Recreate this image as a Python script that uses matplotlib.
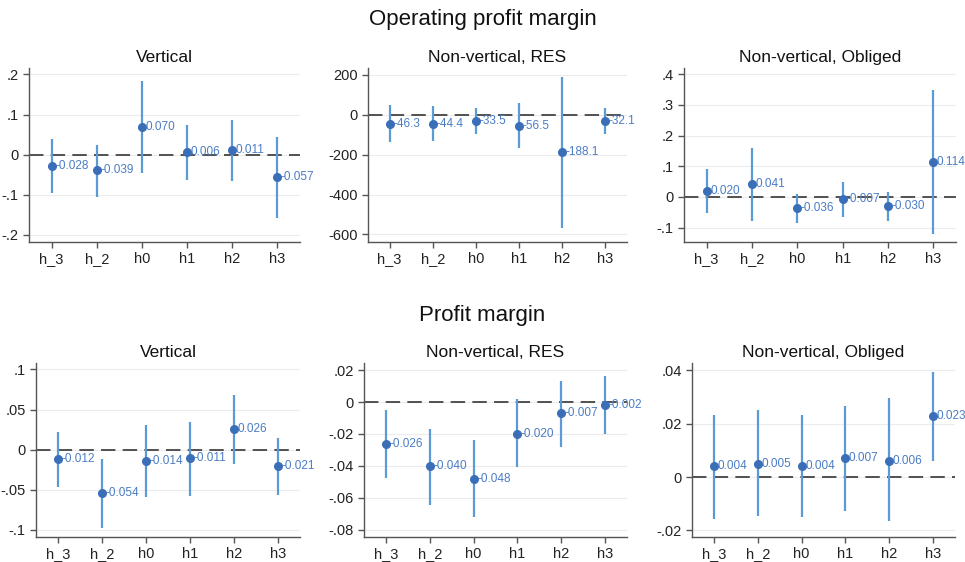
import numpy as np
import matplotlib
matplotlib.use("Agg")
import matplotlib.pyplot as plt

plt.rcParams['font.family'] = ['Liberation Sans', 'DejaVu Sans']

horizons = ["h_3", "h_2", "h0", "h1", "h2", "h3"]

# Operating profit margin
opm_vert_coef = [-0.028, -0.039, 0.070, 0.006, 0.011, -0.057]
opm_vert_lo = [-0.095, -0.105, -0.047, -0.063, -0.065, -0.159]
opm_vert_hi = [0.039, 0.024, 0.184, 0.074, 0.087, 0.045]

opm_res_coef = [-46.3, -44.4, -33.5, -56.5, -188.1, -32.1]
opm_res_lo = [-139, -134, -99, -169, -566, -95]
opm_res_hi = [47, 44, 33, 57, 187, 32]

opm_obl_coef = [0.020, 0.041, -0.036, -0.007, -0.030, 0.114]
opm_obl_lo = [-0.053, -0.078, -0.085, -0.064, -0.080, -0.122]
opm_obl_hi = [0.090, 0.158, 0.009, 0.047, 0.016, 0.348]

# Profit margin
pm_vert_coef = [-0.012, -0.054, -0.014, -0.011, 0.026, -0.021]
pm_vert_lo = [-0.047, -0.098, -0.059, -0.058, -0.0175, -0.057]
pm_vert_hi = [0.022, -0.012, 0.031, 0.035, 0.0675, 0.0146]

pm_res_coef = [-0.026, -0.040, -0.048, -0.020, -0.007, -0.002]
pm_res_lo = [-0.0477, -0.0645, -0.072, -0.0408, -0.0279, -0.0199]
pm_res_hi = [-0.0052, -0.0168, -0.0237, 0.0019, 0.0134, 0.0161]

pm_obl_coef = [0.004, 0.005, 0.004, 0.007, 0.006, 0.023]
pm_obl_lo = [-0.0158, -0.0145, -0.0149, -0.0128, -0.0165, 0.006]
pm_obl_hi = [0.0231, 0.0251, 0.0234, 0.0265, 0.0296, 0.0395]

W, H = 965, 562
fig = plt.figure(figsize=(W / 100, H / 100), dpi=100)

dot_col = "#3a6fb8"
line_col = "#5b9bd5"
lab_col = "#4a7cc4"


def stata_fmt(v):
    if v == 0:
        return "0"
    s = ("%g" % v)
    s = s.replace("0.", ".")
    return s


def panel(box, title, coef, lo, hi, yticks, ylim, fmt, tick_fmt=stata_fmt):
    l, r, t, b = box
    ax = fig.add_axes([l / W, 1 - b / H, (r - l) / W, (b - t) / H])
    x = np.arange(len(horizons))
    for yt in yticks:
        ax.axhline(yt, color="#ececec", lw=0.8, zorder=0)
    ax.axhline(0, color="#444444", lw=1.3, dashes=(8, 4), zorder=1)
    ax.vlines(x, lo, hi, color=line_col, lw=1.6, zorder=2)
    ax.plot(x, coef, "o", color=dot_col, ms=5.5, zorder=3)
    for xi, c in zip(x, coef):
        ax.annotate(fmt % c, (xi, c), xytext=(2.5, 0), textcoords="offset points",
                    va="center", ha="left", color=lab_col, fontsize=8.5, zorder=4)
    ax.set_xlim(-0.5, 5.5)
    ax.set_ylim(*ylim)
    ax.set_xticks(x)
    ax.set_xticklabels(horizons)
    ax.set_yticks(yticks)
    ax.set_yticklabels([tick_fmt(v) for v in yticks])
    for s in ["top", "right"]:
        ax.spines[s].set_visible(False)
    for s in ["left", "bottom"]:
        ax.spines[s].set_color("#555555")
        ax.spines[s].set_linewidth(1.0)
    ax.tick_params(axis="both", colors="#555555", labelcolor="#222222",
                   labelsize=10.5, length=4, width=1.0)
    ax.set_title(title, fontsize=12.5, color="#111111", pad=4)
    return ax


def res_fmt(v):
    return "%d" % v


# row 1
panel((29, 300, 68, 242), "Vertical", opm_vert_coef, opm_vert_lo, opm_vert_hi,
      [-0.2, -0.1, 0, 0.1, 0.2], (-0.218, 0.216), "%.3f")
panel((368, 627, 68, 242), "Non-vertical, RES", opm_res_coef, opm_res_lo, opm_res_hi,
      [-600, -400, -200, 0, 200], (-638, 234), "%.1f", res_fmt)
panel((684, 956, 68, 242), "Non-vertical, Obliged", opm_obl_coef, opm_obl_lo, opm_obl_hi,
      [-0.1, 0, 0.1, 0.2, 0.3, 0.4], (-0.147, 0.42), "%.3f")

# row 2
panel((36, 300, 363, 537), "Vertical", pm_vert_coef, pm_vert_lo, pm_vert_hi,
      [-0.1, -0.05, 0, 0.05, 0.1], (-0.109, 0.108), "%.3f")
panel((364, 627, 363, 537), "Non-vertical, RES", pm_res_coef, pm_res_lo, pm_res_hi,
      [-0.08, -0.06, -0.04, -0.02, 0, 0.02], (-0.0846, 0.0245), "%.3f")
panel((692, 955, 363, 537), "Non-vertical, Obliged", pm_obl_coef, pm_obl_lo, pm_obl_hi,
      [-0.02, 0, 0.02, 0.04], (-0.0225, 0.0428), "%.3f")

fig.text(0.5, 1 - 20 / H, "Operating profit margin", ha="center", va="center",
         fontsize=16, color="#111111")
fig.text(0.5, 1 - 315 / H, "Profit margin", ha="center", va="center",
         fontsize=16, color="#111111")

fig.savefig("out.png", dpi=100)
